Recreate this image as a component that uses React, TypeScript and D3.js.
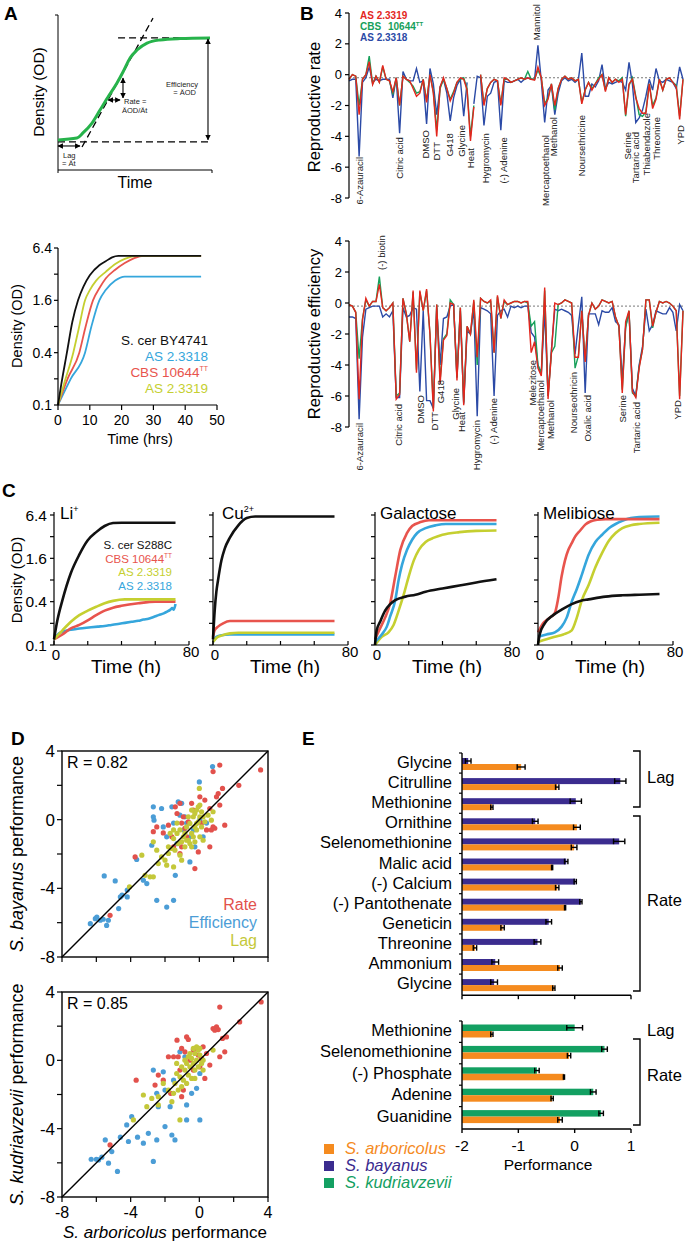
import React from "react";
import * as d3 from "d3";

const FONT = '"Liberation Sans", Arial, Helvetica, sans-serif';

// ================= Panel A (schematic) =================
const schemTime = [0, 12.3, 16.2, 22.1, 27.3, 32.5, 38.3, 42.2, 46.8, 51.3, 57.8, 66.2, 79.2, 98.7];
const schemOD = [19.4, 20.6, 23.9, 30.3, 38.7, 47.1, 56.1, 63.2, 72.3, 77.4, 81.9, 83.9, 84.8, 85.2];
const schemBaseLine: [number, number][] = [[0, 18.1], [98.7, 18.1]];
const schemTopLine: [number, number][] = [[39, 85.2], [98.7, 85.2]];
const schemTangent: [number, number][] = [[15.6, 14.8], [61.7, 98]];
const schemLagArrow: [number, number][] = [[0, 15.5], [14.3, 15.5]];
const schemRateV: [number, number][] = [[42.2, 46.5], [42.2, 59.4]];
const schemRateH: [number, number][] = [[32.5, 45.2], [40.3, 45.2]];
const schemEffArrow: [number, number][] = [[97.4, 19.5], [97.4, 84.5]];

// ================= Panel A (growth curves) =================
const aTimeTicks = [0, 10, 20, 30, 40, 50];
const odTicks = [0.1, 0.2, 0.4, 0.8, 1.6, 3.2, 6.4];
const odLabels = [0.1, 0.4, 1.6, 6.4];
const aBY4741: [number, number][] = [[0, 0.1], [1, 0.17], [2.8, 0.4], [4.5, 0.9], [6.3, 1.6], [8, 2.3], [10, 3.1], [13, 4.05], [15, 4.5], [17, 5.0], [19, 5.2], [45, 5.2]];
const aAS2_3319: [number, number][] = [[0, 0.1], [2, 0.18], [4.8, 0.4], [6.5, 0.75], [8.5, 1.6], [10, 2.1], [12, 2.7], [15, 3.4], [18, 4.2], [21, 4.8], [25, 5.2], [45, 5.2]];
const aCBS10644: [number, number][] = [[0, 0.1], [3, 0.2], [6.7, 0.4], [8.5, 0.75], [11, 1.6], [13, 2.2], [15, 2.85], [18, 3.6], [21, 4.3], [24, 4.9], [27, 5.2], [45, 5.2]];
const aAS2_3318: [number, number][] = [[0, 0.1], [4, 0.2], [8.5, 0.4], [10.5, 0.8], [13, 1.6], [15, 2.1], [18, 2.7], [21, 3.0], [45, 3.0]];

// ================= Panel B =================
const rateRed = [
  -0.3, 0.0, -0.1, -2.6, -0.3, 0.0, 0.85, -0.65, -0.1, -0.5,
  0.6, -0.3, -0.4, -1.1, -0.2, -2.0, -0.1, -0.3, -0.4, -0.9,
  -1.4, -1.2, -0.3, -1.8, 0.0, -1.2, -4.0, -0.8, -0.2, -0.9,
  -1.7, -1.2, -0.5, -0.2, -0.3, -1.0, -4.3, -2.1, null, 0.0,
  -2.0, -0.9, -0.5, -0.3, -0.4, -2.0, -0.2, -0.3, -0.5, -0.4,
  -0.3, -0.2, -0.3, -0.2, -0.3, -0.35, 0.5, -0.2, -2.0, -1.6,
  -0.6, -2.0, -0.9, -0.3, -0.1, -0.3, -0.2, -0.4, -0.3, -1.9,
  -1.0, -0.5, -1.0, -0.6, -0.3, 0.0, -1.1, -0.2, -0.5, -0.3,
  -0.5, -0.3, -2.6, -0.6, -0.3, -1.5, -2.2, -2.5, -2.5, -0.6,
  -2.2, -1.6, -0.3, -1.0, -0.3, -0.2, -0.5, -0.8, -2.9, -0.3,
];
const rateGreen = [
  -0.3, 0.0, -0.1, -2.0, -0.3, 0.0, 1.2, -0.6, -0.1, -0.5,
  0.5, -0.3, -0.4, -1.3, -0.2, -2.0, -0.1, -0.3, -0.5, -0.75,
  -1.2, -1.1, -0.3, -1.7, 0.0, -1.1, -3.6, -0.9, -0.3, -0.9,
  -1.6, -1.1, -0.5, -0.3, -0.2, -0.9, -4.0, -2.0, null, 0.0,
  -1.9, -0.9, -0.5, -0.3, -0.4, -1.9, -0.3, -0.3, -0.5, -0.4,
  -0.3, -0.2, -0.3, 0.2, -0.3, -0.3, 0.3, -0.2, -1.9, -1.5,
  -0.6, -2.3, -0.9, -0.3, -0.1, -0.3, -0.2, -0.4, -0.3, -1.8,
  -1.0, -0.5, -0.9, -0.6, -0.2, 0.0, -1.0, -0.2, -0.5, -0.3,
  -0.4, -0.2, -2.7, -0.7, -0.2, -1.4, -2.6, -2.7, -2.4, -0.6,
  -2.0, -1.5, -0.3, -1.0, -0.3, -0.2, -0.5, -0.7, -2.7, -0.3,
];
const rateBlue = [
  -0.4, -0.3, -0.3, -5.3, -0.5, -0.2, 0.5, -0.5, -0.3, -0.4,
  -0.3, -0.3, -0.3, -1.5, -0.2, -3.8, 0.2, -0.3, -0.4, -0.4,
  0.4, -0.5, -0.4, -3.2, 0.4, -0.6, -2.6, -0.8, -0.3, -1.2,
  -3.0, -1.5, -0.7, -0.3, -2.7, -0.5, null, -1.9, -0.1, -0.2,
  -3.3, -1.4, -1.2, -0.5, -0.4, -3.6, -0.4, -0.5, -0.5, -0.4,
  -0.3, -0.5, -0.3, -0.2, -0.3, -0.3, 1.9, -0.4, -3.1, -1.0,
  -0.7, -2.6, -1.2, -0.4, -0.2, -0.4, -0.3, -0.5, -0.3, 1.4,
  -1.4, -1.4, -0.6, -0.8, -0.4, 0.65, -0.9, -0.5, -0.6, -0.5,
  -0.4, -0.5, -1.0, 0.8, -0.6, -3.1, -2.8, -2.3, -1.4, -0.3,
  -1.0, 0.4, -0.4, -0.5, -0.3, -0.4, -0.5, -0.9, 0.5, -0.3,
];
const effRed = [
  -0.1, -0.2, -0.6, -6.2, -1.1, 0.3, -0.2, 0.1, 0.1, 1.2,
  -0.3, -0.5, -0.3, 0.0, -6.2, -5.9, 0.3, -0.7, -2.5, 0.8,
  -4.5, 0.8, -0.5, 0.9, -2.0, -7.0, -0.1, -5.2, -2.4, -2.1,
  0.0, -0.1, -5.0, -0.3, -6.6, -1.5, -2.0, 0.2, -3.5, 0.3,
  0.1, 0.0, 0.2, -3.2, 0.5, -1.0, 0.2, -0.1, 0.0, 0.1,
  0.1, 0.0, 0.1, 0.1, -3.2, -2.5, -4.2, -4.7, 1.0, -6.2,
  -3.2, 0.0, -0.1, 0.0, 0.2, 0.1, 0.0, -3.5, -3.5, -0.5,
  -3.8, -0.8, 0.0, -0.4, -0.2, 0.2, 0.1, 0.0, 0.1, -0.9,
  -1.5, -5.8, -1.2, -0.5, -5.7, -6.1, -4.2, -3.0, 0.2, 0.2,
  -1.5, -0.6, 0.1, 0.0, 0.1, 0.0, -0.2, -0.5, -6.2, -0.5,
];
const effGreen = [
  -0.1, -0.2, -0.6, -3.6, -1.0, 0.2, -0.2, 0.1, 0.1, 1.7,
  -0.3, -0.5, -0.3, 0.0, -6.0, -5.8, 0.3, -0.7, -2.5, 0.7,
  -4.3, 0.7, -0.5, 0.8, -2.0, -6.8, -0.1, -5.0, -2.3, -2.0,
  0.2, -0.1, -4.8, -0.3, -6.4, -1.5, -2.0, 0.1, -4.0, 0.3,
  0.1, 0.0, 0.1, -3.2, 0.4, -1.0, 0.1, -0.1, 0.0, 0.1,
  0.1, 0.0, 0.1, 0.0, -1.5, -1.2, -4.0, -4.5, 0.8, -6.0,
  -3.2, -2.8, -0.1, 0.0, 0.2, 0.1, 0.0, -4.2, -3.4, -0.5,
  -3.7, -0.8, 0.0, -0.4, -0.2, 0.2, 0.1, 0.0, 0.1, -0.9,
  -1.5, -5.6, -1.6, -0.5, -5.8, -6.0, -4.1, -3.0, 0.2, 0.2,
  -1.6, -0.6, 0.1, 0.0, 0.1, 0.0, -0.2, -0.5, -6.0, -0.5,
];
const effBlue = [
  -0.9, -0.9, -1.0, -7.5, -2.2, -0.4, -0.3, -0.2, -0.2, -0.2,
  -0.9, -0.7, -0.9, -0.5, -6.1, -6.1, -0.3, -0.9, -0.8, -0.3,
  -0.4, -5.7, -0.5, -6.3, -6.3, -6.8, -0.3, -4.0, -1.0, -0.9,
  -0.2, -0.1, -4.8, -0.5, -6.5, -1.8, -2.0, -0.4, -7.3, -0.3,
  -0.4, -0.5, -0.7, -6.0, -0.8, -0.5, -0.4, -0.9, -0.2, -0.3,
  -0.2, -0.3, -0.2, -0.2, -1.9, -2.2, -4.0, -4.6, -0.5, -6.0,
  -3.0, -0.4, -0.5, -0.4, -0.5, -0.6, -0.8, -3.3, -1.4, 0.4,
  -5.8, -0.7, -0.7, -0.7, -1.4, -0.5, -0.6, -0.6, -0.3, -1.2,
  -1.4, -5.0, -1.5, -0.6, -5.5, -6.0, -4.0, -2.8, -0.4, -1.8,
  -1.4, -0.5, -0.6, -0.7, -0.7, -0.3, -0.6, -1.8, -0.1, -0.5,
];
const bTicks = [-8, -6, -4, -2, 0, 2, 4];
const bBaseline = -0.2;
const rateLabels = ["6-Azauracil", "Citric acid", "DMSO", "DTT", "G418", "Glycine", "Heat", "Hygromycin", "(-) Adenine", "Mercaptoethanol", "Methanol", "Noursethricine", "Serine", "Tartaric acid", "Thiabendazole", "Threonine", "YPD"];
const rateLabelIdx = [3.3, 15, 22.6, 26, 29.8, 33.5, 36, 40.4, 45.8, 58.2, 60.7, 69.1, 82.5, 85.1, 88.2, 91.1, 98.3];
const rateLabelTop = [-5.34, -4.05, -3.59, -4.37, -3.79, -3.27, -4.76, -3.79, -4.05, -3.92, -2.75, -2.62, -3.72, -3.72, -2.49, -2.75, -3.27];
const rateUpLabels = ["Mannitol"];
const rateUpIdx = [55.7];
const rateUpBottom = [2.24];
const effLabels = ["6-Azauracil", "Citric acid", "DMSO", "DTT", "G418", "Glycine", "Heat", "Hygromycin", "(-) Adenine", "Melezitose", "Mercaptoethanol", "Methanol", "Nourseothricin", "Oxalic acid", "Serine", "Tartaric acid", "YPD"];
const effLabelIdx = [3.3, 14.7, 21.1, 25.5, 27.2, 31.5, 33.5, 37.9, 42.9, 54.3, 56.9, 59.9, 66.6, 70.6, 81, 85.4, 97.3];
const effLabelTop = [-7.74, -6.52, -5.94, -7.03, -4.97, -5.48, -7.03, -7.55, -6.13, -3.68, -4.97, -6.26, -4.45, -5.94, -5.94, -6.39, -6.26];
const effUpLabels = ["(-) biotin"];
const effUpIdx = [9.7];
const effUpBottom = [2.13];

// ================= Panel C =================
const cTimeTicks = [0, 20, 40, 60, 80];
const cTimeLabels = [0, 80];
const liBlack: [number, number][] = [[0, 0.12], [2, 0.22], [5, 0.42], [10, 1.0], [15, 1.8], [20, 2.85], [25, 3.7], [30, 4.5], [35, 4.95], [40, 5.0], [72, 5.0]];
const liRed: [number, number][] = [[0, 0.12], [5, 0.14], [10, 0.17], [15, 0.19], [20, 0.22], [25, 0.26], [30, 0.3], [35, 0.33], [40, 0.35], [50, 0.38], [60, 0.4], [72, 0.4]];
const liYellow: [number, number][] = [[0, 0.12], [5, 0.16], [10, 0.21], [15, 0.26], [20, 0.3], [25, 0.34], [30, 0.38], [35, 0.41], [42, 0.43], [72, 0.43]];
const liBlue: [number, number][] = [[0, 0.12], [3, 0.145], [6, 0.155], [10, 0.163], [14, 0.168], [18, 0.172], [22, 0.176], [26, 0.18], [30, 0.184], [34, 0.19], [38, 0.196], [42, 0.203], [46, 0.21], [50, 0.217], [53, 0.226], [56, 0.232], [59, 0.245], [62, 0.26], [65, 0.275], [67, 0.29], [69, 0.31], [70, 0.325], [71, 0.31], [72, 0.37]];
const cuBlack: [number, number][] = [[0, 0.12], [1, 0.3], [2, 0.55], [3, 0.8], [5, 1.5], [7, 2.2], [10, 3.1], [15, 4.6], [20, 5.8], [25, 6.1], [72, 6.1]];
const cuRed: [number, number][] = [[0, 0.13], [1, 0.16], [3, 0.18], [6, 0.2], [10, 0.215], [72, 0.215]];
const cuYellow: [number, number][] = [[0, 0.11], [2, 0.125], [5, 0.135], [10, 0.145], [15, 0.148], [72, 0.148]];
const cuBlue: [number, number][] = [[0, 0.11], [2, 0.13], [5, 0.137], [10, 0.14], [72, 0.14]];
const galBlack: [number, number][] = [[0, 0.1], [1, 0.16], [3, 0.21], [6, 0.3], [9, 0.37], [12, 0.42], [18, 0.47], [24, 0.5], [30, 0.55], [40, 0.61], [50, 0.67], [60, 0.74], [72, 0.82]];
const galRed: [number, number][] = [[0, 0.12], [3, 0.17], [6, 0.24], [9, 0.38], [12, 0.9], [15, 2.1], [19, 3.6], [22, 4.5], [27, 5.1], [32, 5.4], [72, 5.4]];
const galBlue: [number, number][] = [[0, 0.11], [4, 0.14], [7, 0.18], [9, 0.25], [12, 0.42], [14, 0.8], [16, 1.3], [19, 2.1], [22, 2.9], [25, 3.6], [30, 4.2], [36, 4.6], [42, 4.8], [72, 4.8]];
const galYellow: [number, number][] = [[0, 0.1], [4, 0.13], [8, 0.15], [11, 0.19], [14, 0.3], [17, 0.5], [20, 0.9], [23, 1.5], [26, 2.1], [30, 2.7], [35, 3.1], [40, 3.4], [50, 3.7], [60, 3.85], [72, 3.9]];
const melBlack: [number, number][] = [[0, 0.1], [1, 0.14], [4, 0.2], [9, 0.26], [14, 0.31], [20, 0.37], [25, 0.41], [30, 0.43], [40, 0.47], [50, 0.49], [60, 0.5], [72, 0.51]];
const melRed: [number, number][] = [[0, 0.15], [3, 0.2], [7, 0.24], [10, 0.28], [12, 0.45], [14, 0.9], [16, 1.5], [18, 2.1], [20, 2.6], [22, 3.2], [25, 3.9], [28, 4.7], [31, 5.2], [35, 5.5], [40, 5.6], [72, 5.6]];
const melBlue: [number, number][] = [[0, 0.13], [5, 0.14], [10, 0.15], [14, 0.18], [17, 0.24], [20, 0.4], [23, 0.6], [26, 0.95], [30, 1.8], [34, 2.7], [38, 3.4], [42, 4.2], [46, 4.8], [50, 5.3], [55, 5.8], [60, 6.0], [72, 6.1]];
const melYellow: [number, number][] = [[0, 0.11], [5, 0.12], [10, 0.13], [15, 0.14], [20, 0.16], [23, 0.24], [26, 0.42], [30, 0.68], [34, 1.2], [38, 1.9], [42, 2.8], [46, 3.6], [50, 4.2], [55, 4.6], [60, 4.8], [72, 5.0]];

// ================= Panel D =================
const dTicks = [-8, -6, -4, -2, 0, 2, 4];
const dLabels = [-8, -4, 0, 4];
const dTopEff: [number, number][] = [[-6.35, -6.06], [-6.06, -5.77], [-5.97, -5.67], [-5.77, -5.86], [-5.6, -5.8], [-5.4, -6.16], [-5.3, -5.86], [-5.54, -3.28], [-4.9, -3.57], [-4.7, -5.18], [-4.6, -4.5], [-4.5, -4.4], [-4.2, -4.1], [-4.2, -4.5], [-3.65, -2.32], [-3.26, -3.53], [-3.06, -3.72], [-2.77, -1.49], [-2.48, -4.7], [-1.9, -5.09], [-1.5, -4.7], [-1.4, -3.24], [-2.68, 0.75], [-2.68, 0.17], [-2.64, -0.03], [-2.2, 0.65], [-2.1, -0.42], [-1.9, -1.0], [-1.6, 0.75], [-1.23, 1.04], [-1.03, 0.95], [-0.84, 0.17], [-0.55, -1.0], [-0.35, -0.6], [-0.26, -1.58], [0, 2.2], [-0.55, -2.46], [0.77, 3.09], [0.03, 0.0], [0.22, -1.0], [-1.3, -1.39], [-1.5, -0.2], [-0.9, -0.6], [-0.74, -0.2], [-1.13, 0.26], [0.42, -0.2]];
const dTopRate: [number, number][] = [[-5.2, -5.57], [-3.74, -2.17], [-2.68, -0.7], [-2.48, -0.42], [-2.1, -0.77], [-1.8, -0.32], [-1.6, -1.0], [-1.4, 0.75], [-1.3, 0.36], [-1.13, 0.95], [-1.03, -0.2], [-0.93, 0.17], [-0.84, -0.5], [-0.74, -1.0], [-1.13, -1.97], [-1.5, -1.58], [-1.03, -1.58], [-0.45, 0.95], [-0.26, -2.85], [-0.06, -1.88], [0.13, -0.2], [0.32, 1.14], [0.42, -0.6], [0.61, -1.58], [0.7, -0.6], [0.8, -0.42], [0.9, -0.5], [1.0, 1.33], [1.1, 1.52], [1.19, 0.85], [1.35, 1.82], [1.48, -0.32], [1.19, 3.18], [0.8, 2.8], [2.3, 2.0], [3.57, 2.9], [0.61, 0.65], [0.03, 1.33], [-0.35, 0.56], [-0.64, -0.12]];
const dTopLag: [number, number][] = [[-4.07, -3.92], [-3.35, -2.07], [-3.16, -3.24], [-2.87, -3.33], [-2.68, -3.33], [-2.48, -1.78], [-2.39, -2.56], [-2.2, -2.17], [-2.0, -2.36], [-1.8, -1.97], [-1.8, -1.58], [-1.6, -1.68], [-1.42, -1.78], [-1.23, -1.39], [-1.03, -2.36], [-0.84, -1.58], [-0.74, -1.2], [-0.55, -1.39], [-0.45, -0.8], [-0.35, -1.0], [-0.26, -0.42], [-0.16, -0.22], [-0.06, -0.12], [0.03, 0.17], [0.13, 0.46], [0.22, 0.17], [0.03, 0.85], [-0.16, 0.56], [0, 1.82], [0.7, -0.03], [0.8, 0.46], [-1.5, -0.6], [-1.3, -0.8], [-1.13, -0.6], [-0.93, -1.0], [-0.74, -0.42], [-0.55, -0.22], [-0.35, 0.17], [-0.16, -0.6], [-1.03, -1.29], [-0.84, -0.8], [-0.64, -1.2], [-0.45, -1.58], [-0.26, -1.29], [-1.5, -1.1], [-1.7, -0.8], [-1.3, -0.2], [-0.64, 0.17], [-0.45, 0.56], [-0.26, 0.36], [-0.06, 0.75], [0.13, -0.42], [0.32, -0.12], [0.51, 0.26], [-1.5, -2.75], [-1.9, -2.65], [-1.13, -2.07], [-2.68, -1.29], [0.03, -1.0], [0.22, -1.2]];
const dBotEff: [number, number][] = [[-6.3, -5.79], [-6.0, -5.79], [-5.87, -5.83], [-5.68, -5.67], [-5.48, -4.66], [-5.29, -6.02], [-5.1, -5.34], [-4.77, -6.5], [-4.6, -4.5], [-4.23, -3.78], [-4.13, -4.75], [-3.94, -3.3], [-3.6, -4.5], [-3.26, -4.85], [-2.97, -4.27], [-2.68, -5.92], [-2.48, -4.66], [-2.39, -2.71], [-2.0, -3.88], [-1.6, -4.37], [-1.42, -4.66], [-0.74, -3.49], [0.03, -3.49], [-2.68, -0.57], [-2.1, -0.67], [-2.0, -1.74], [-1.5, -1.16], [-0.74, -2.61], [-0.45, -1.93], [-0.16, -1.64], [0.03, -0.77], [-1.13, 0.5], [-0.84, 0.21], [-2.48, -1.93], [-1.7, -2.71]];
const dBotRate: [number, number][] = [[-5.2, -4.95], [-3.68, -1.16], [-2.39, -0.86], [-2.58, -1.45], [-2.1, -1.16], [-1.8, 0.21], [-1.67, -1.93], [-1.5, 0.21], [-1.3, 1.18], [-1.23, 0.21], [-1.03, -2.13], [-0.93, -1.74], [-0.74, 1.37], [-0.64, 1.22], [-0.84, 0.5], [-1.03, 0.7], [-0.35, 0.6], [-0.06, 0.31], [0.13, 0.11], [0.32, -1.06], [0.42, 0.4], [0.61, -0.28], [0.8, 1.86], [0.9, 1.76], [1.0, 1.96], [1.1, 1.8], [1.19, 3.12], [1.19, 0.21], [1.35, 1.28], [1.48, 0.5], [1.58, 1.37], [2.35, 2.25], [3.6, 3.42], [-0.55, 0.01], [0.03, -0.38], [-0.35, -0.57], [0.22, 0.79], [-1.13, -0.57]];
const dBotLag: [number, number][] = [[-3.84, -3.49], [-3.26, -2.03], [-3.06, -2.71], [-2.77, -2.23], [-2.39, -2.61], [-2.39, -2.13], [-2.1, -1.35], [-1.8, -1.74], [-1.6, -2.42], [-1.13, -3.49], [-1.42, -1.35], [-1.32, -0.77], [-1.32, -0.18], [-1.13, -0.96], [-0.93, -1.16], [-0.84, -0.57], [-0.74, -0.18], [-0.64, -0.86], [-0.55, -0.38], [-0.45, 0.11], [-0.35, -0.18], [-0.26, 0.4], [-0.16, 0.01], [-0.06, 0.6], [0.03, 0.31], [0.13, -0.18], [0.22, 0.01], [0.8, 0.6], [-1.03, -1.54], [-0.74, -1.35], [-0.45, -1.06], [-0.26, -0.57], [-0.06, -0.38], [-0.84, 0.01], [-0.55, 0.4], [-0.35, 0.7], [-0.16, 0.79], [0.03, 0.7], [-1.5, -1.93], [-1.23, -1.74], [-0.64, 0.21], [-0.26, -1.06], [-1.03, -0.38], [0.22, -0.57]];

// ================= Panel E =================
const eTicks = [-2, -1, 0, 1];
const eCatsTop = ["Glycine", "Citrulline", "Methionine", "Ornithine", "Selenomethionine", "Malic acid", "(-) Calcium", "(-) Pantothenate", "Geneticin", "Threonine", "Ammonium", "Glycine"];
const eBayTop = [-1.89, 0.81, 0.02, -0.7, 0.79, -0.15, 0.01, 0.11, -0.46, -0.66, -1.41, -1.43];
const eBayTopErr = [0.05, 0.1, 0.1, 0.05, 0.1, 0.03, 0.02, 0.02, 0.05, 0.06, 0.06, 0.06];
const eArbTop = [-0.95, -0.31, -1.47, 0.04, -0.01, -0.4, -0.31, -0.17, -1.28, -1.77, -0.26, -0.37];
const eArbTopErr = [0.07, 0.03, 0.02, 0.06, 0.05, 0.01, 0.03, 0.01, 0.03, 0.03, 0.04, 0.02];
const eCatsBot = ["Methionine", "Selenomethionine", "(-) Phosphate", "Adenine", "Guanidine"];
const eKudBot = [0.0, 0.53, -0.67, 0.33, 0.47];
const eKudBotErr = [0.14, 0.05, 0.04, 0.05, 0.04];
const eArbBot = [-1.47, -0.1, -0.19, -0.4, -0.26];
const eArbBotErr = [0.02, 0.03, 0.01, 0.02, 0.04];

// ================= colours =================
const C_BLACK = "#111";
const C_BLUE = "#35a6dc";
const C_RED = "#e8544d";
const C_YEL = "#c5cf30";
const B_RED = "#e3261d";
const B_GREEN = "#17a05a";
const B_BLUE = "#2b4aa6";
const D_RED = "#e2514c";
const D_BLUE = "#4b9dd6";
const D_YEL = "#c4c83a";
const E_ORANGE = "#f58b1f";
const E_PURPLE = "#3b2c8f";
const E_GREEN = "#13a062";

type P = [number, number];

function pathOf(pts: P[], x: (v: number) => number, y: (v: number) => number, curve: any = d3.curveMonotoneX) {
  return d3.line<P>().x((d) => x(d[0])).y((d) => y(d[1])).curve(curve)(pts) || "";
}

const Arrow = ({ pts, x, y }: { pts: P[]; x: any; y: any }) => (
  <line x1={x(pts[0][0])} y1={y(pts[0][1])} x2={x(pts[1][0])} y2={y(pts[1][1])} stroke="#000" strokeWidth={1.1} markerStart="url(#ah)" markerEnd="url(#ah)" />
);

function PanelASchematic() {
  const x = d3.scaleLinear().domain([0, 100]).range([58, 212]);
  const y = d3.scaleLinear().domain([0, 100]).range([170, 15]);
  const pts: P[] = schemTime.map((t, i) => [t, schemOD[i]]);
  const dash = (p: P[]) => (
    <line x1={x(p[0][0])} y1={y(p[0][1])} x2={x(p[1][0])} y2={y(p[1][1])} stroke="#000" strokeWidth={1.3} strokeDasharray="7,4" />
  );
  return (
    <g>
      <text x={4} y={20} fontSize={19} fontWeight="bold">A</text>
      <line x1={x(0)} y1={y(100)} x2={x(0)} y2={y(0)} stroke="#000" strokeWidth={1} />
      <line x1={x(0)} y1={y(0)} x2={x(100)} y2={y(0)} stroke="#000" strokeWidth={1} />
      <line x1={x(0) - 3} y1={y(100)} x2={x(0)} y2={y(100)} stroke="#000" />
      <line x1={x(0)} y1={y(0)} x2={x(0)} y2={y(0) + 3} stroke="#000" />
      <line x1={x(100)} y1={y(0)} x2={x(100)} y2={y(0) + 3} stroke="#000" />
      {dash(schemBaseLine)}
      {dash(schemTopLine)}
      {dash(schemTangent)}
      <path d={pathOf(pts, x, y)} fill="none" stroke="#27b34b" strokeWidth={3} />
      <Arrow pts={schemLagArrow} x={x} y={y} />
      <Arrow pts={schemRateV} x={x} y={y} />
      <Arrow pts={schemRateH} x={x} y={y} />
      <Arrow pts={schemEffArrow} x={x} y={y} />
      <g fontSize={7.5} fill="#222">
        <text x={63} y={158}>Lag</text>
        <text x={62} y={166}>= Ät</text>
        <text x={124} y={104}>Rate =</text>
        <text x={122} y={113}>ÄOD/Ät</text>
        <text x={198} y={87} textAnchor="end">Efficiency</text>
        <text x={196} y={95} textAnchor="end">= ÄOD</text>
      </g>
      <text x={135} y={188} fontSize={16} textAnchor="middle">Time</text>
      <text transform="translate(44,92) rotate(-90)" fontSize={15.5} textAnchor="middle">Density (OD)</text>
    </g>
  );
}

function PanelAGrowth() {
  const x = d3.scaleLinear().domain([0, 50]).range([58, 217]);
  const y = d3.scaleLog().base(2).domain([0.1, 6.4]).range([405, 248]);
  const curves: [P[], string][] = [[aAS2_3318, C_BLUE], [aCBS10644, C_RED], [aAS2_3319, C_YEL], [aBY4741, C_BLACK]];
  const legend: [string, string, boolean][] = [["S. cer BY4741", C_BLACK, false], ["AS 2.3318", C_BLUE, false], ["CBS 10644", C_RED, true], ["AS 2.3319", C_YEL, false]];
  return (
    <g>
      {curves.map(([c, col], i) => (
        <path key={i} d={pathOf(c, x, y)} fill="none" stroke={col} strokeWidth={1.8} />
      ))}
      <line x1={x(0)} y1={y(6.4)} x2={x(0)} y2={y(0.1)} stroke="#000" strokeWidth={1.2} />
      <line x1={x(0)} y1={y(0.1)} x2={x(50)} y2={y(0.1)} stroke="#000" strokeWidth={1.2} />
      {odTicks.map((t) => (
        <line key={t} x1={x(0) - 4} x2={x(0)} y1={y(t)} y2={y(t)} stroke="#000" strokeWidth={1.2} />
      ))}
      {odLabels.map((t) => (
        <text key={t} x={x(0) - 6} y={y(t) + 5} fontSize={14} textAnchor="end">{t}</text>
      ))}
      {aTimeTicks.map((t) => (
        <g key={t}>
          <line x1={x(t)} x2={x(t)} y1={y(0.1)} y2={y(0.1) + 5} stroke="#000" strokeWidth={1.2} />
          <text x={x(t)} y={425} fontSize={14} textAnchor="middle">{t}</text>
        </g>
      ))}
      <text x={140} y={444} fontSize={14.5} textAnchor="middle">Time (hrs)</text>
      <text transform="translate(22,326) rotate(-90)" fontSize={14.5} textAnchor="middle">Density (OD)</text>
      {legend.map(([s, col, sup], i) => (
        <text key={i} x={208} y={345 + i * 16} fontSize={13.5} fill={col} textAnchor="end">
          {s}
          {sup ? <tspan dy={-6} fontSize={7}>TT</tspan> : null}
        </text>
      ))}
    </g>
  );
}

function BChart({ red, green, blue, y0, y1, label, labels, idx, tops, upLabels, upIdx, upBottom, labelCenter }: any) {
  const x = d3.scaleLinear().domain([0, 99]).range([349, 683]);
  const y = d3.scaleLinear().domain([-8, 4]).range([y1, y0]);
  const line = d3.line<number | null>().defined((d) => d !== null).x((_, i) => x(i)).y((d) => y(d as number));
  return (
    <g>
      <line x1={349} x2={683} y1={y(bBaseline)} y2={y(bBaseline)} stroke="#777" strokeWidth={1} strokeDasharray="2,2" />
      <path d={line(blue) || ""} fill="none" stroke={B_BLUE} strokeWidth={1.4} />
      <path d={line(green) || ""} fill="none" stroke={B_GREEN} strokeWidth={1.4} />
      <path d={line(red) || ""} fill="none" stroke={B_RED} strokeWidth={1.4} />
      <line x1={349} x2={349} y1={y(4)} y2={y(-8)} stroke="#000" strokeWidth={1.2} />
      {bTicks.map((t) => (
        <g key={t}>
          <line x1={345} x2={349} y1={y(t)} y2={y(t)} stroke="#000" strokeWidth={1.2} />
          <text x={342} y={y(t) + 4.5} fontSize={13} textAnchor="end">{t}</text>
        </g>
      ))}
      <text transform={`translate(320,${labelCenter}) rotate(-90)`} fontSize={16.5} textAnchor="middle">{label}</text>
      {labels.map((s: string, i: number) => (
        <text key={i} transform={`translate(${x(idx[i])},${y(tops[i])}) rotate(-90)`} fontSize={9.5} textAnchor="end" dy="0.35em" fill="#222">{s}</text>
      ))}
      {upLabels.map((s: string, i: number) => (
        <text key={"u" + i} transform={`translate(${x(upIdx[i])},${y(upBottom[i])}) rotate(-90)`} fontSize={9.5} textAnchor="start" dy="0.35em" fill="#222">{s}</text>
      ))}
    </g>
  );
}

function PanelB() {
  return (
    <g>
      <text x={300} y={20} fontSize={19} fontWeight="bold">B</text>
      <BChart red={rateRed} green={rateGreen} blue={rateBlue} y0={13} y1={198} label="Reproductive rate" labelCenter={107}
        labels={rateLabels} idx={rateLabelIdx} tops={rateLabelTop} upLabels={rateUpLabels} upIdx={rateUpIdx} upBottom={rateUpBottom} />
      <BChart red={effRed} green={effGreen} blue={effBlue} y0={241} y1={427} label="Reproductive efficiency" labelCenter={334}
        labels={effLabels} idx={effLabelIdx} tops={effLabelTop} upLabels={effUpLabels} upIdx={effUpIdx} upBottom={effUpBottom} />
      <g fontSize={10} fontWeight="bold">
        <text x={360} y={19} fill={B_RED}>AS 2.3319</text>
        <text x={360} y={30} fill={B_GREEN}>CBS<tspan x={388}>10644</tspan><tspan dy={-4} fontSize={6}>TT</tspan></text>
        <text x={360} y={41} fill={B_BLUE}>AS 2.3318</text>
      </g>
    </g>
  );
}

function CPanel({ x0, title, curves, first }: { x0: number; title: React.ReactNode; curves: [P[], string][]; first: boolean }) {
  const x = d3.scaleLinear().domain([0, 80]).range([x0, x0 + 135]);
  const y = d3.scaleLog().base(2).domain([0.1, 6.4]).range([645, 515]);
  return (
    <g>
      {curves.map(([c, col], i) => (
        <path key={i} d={pathOf(c, x, y)} fill="none" stroke={col} strokeWidth={2.6} />
      ))}
      <line x1={x0} x2={x0} y1={512} y2={645} stroke="#000" strokeWidth={1.2} />
      <line x1={x0} x2={x0 + 135} y1={645} y2={645} stroke="#000" strokeWidth={1.2} />
      {odTicks.map((t) => (
        <line key={t} x1={x0 - 4} x2={x0} y1={y(t)} y2={y(t)} stroke="#000" strokeWidth={1.2} />
      ))}
      {cTimeTicks.map((t) => (
        <line key={t} x1={x(t)} x2={x(t)} y1={645} y2={641} stroke="#000" strokeWidth={1.2} />
      ))}
      {cTimeLabels.map((t) => (
        <text key={t} x={x(t) + 2} y={t === 0 ? 660 : 657} fontSize={15} textAnchor="middle">{t}</text>
      ))}
      {first
        ? odLabels.map((t) => (
            <text key={t} x={x0 - 7} y={y(t) + 5.5} fontSize={15.5} textAnchor="end">{t}</text>
          ))
        : null}
      <text x={x0 + 72} y={673} fontSize={19} textAnchor="middle">Time (h)</text>
      {title}
    </g>
  );
}

function PanelC() {
  const xs = [54, 213, 375, 538];
  return (
    <g>
      <text x={2} y={497} fontSize={19} fontWeight="bold">C</text>
      <text transform="translate(22,580) rotate(-90)" fontSize={15} textAnchor="middle">Density (OD)</text>
      <CPanel x0={xs[0]} first={true} curves={[[liBlue, C_BLUE], [liRed, C_RED], [liYellow, C_YEL], [liBlack, C_BLACK]]}
        title={<text x={xs[0] + 6} y={519} fontSize={17}>Li<tspan dy={-7} fontSize={9}>+</tspan></text>} />
      <CPanel x0={xs[1]} first={false} curves={[[cuBlue, C_BLUE], [cuYellow, C_YEL], [cuRed, C_RED], [cuBlack, C_BLACK]]}
        title={<text x={xs[1] + 9} y={519} fontSize={17}>Cu<tspan dy={-7} fontSize={9}>2+</tspan></text>} />
      <CPanel x0={xs[2]} first={false} curves={[[galYellow, C_YEL], [galBlue, C_BLUE], [galRed, C_RED], [galBlack, C_BLACK]]}
        title={<text x={xs[2] + 5} y={519} fontSize={17}>Galactose</text>} />
      <CPanel x0={xs[3]} first={false} curves={[[melYellow, C_YEL], [melBlue, C_BLUE], [melRed, C_RED], [melBlack, C_BLACK]]}
        title={<text x={xs[3] + 5} y={519} fontSize={17}>Melibiose</text>} />
      <g fontSize={11.5} textAnchor="end">
        <text x={172} y={549} fill={C_BLACK}>S. cer S288C</text>
        <text x={172} y={562.5} fill={C_RED}>CBS 10644<tspan dy={-5} fontSize={6.5}>TT</tspan></text>
        <text x={172} y={576} fill={C_YEL}>AS 2.3319</text>
        <text x={172} y={589.5} fill={C_BLUE}>AS 2.3318</text>
      </g>
    </g>
  );
}

function Scatter({ top, bottom, eff, rate, lag, showX, yItalic, rText, legend }: any) {
  const x = d3.scaleLinear().domain([-8, 4]).range([62, 268]);
  const y = d3.scaleLinear().domain([-8, 4]).range([bottom, top]);
  const mid = (top + bottom) / 2;
  return (
    <g>
      {eff.map((d: P, i: number) => <circle key={"e" + i} cx={x(d[0])} cy={y(d[1])} r={2.6} fill={D_BLUE} />)}
      {rate.map((d: P, i: number) => <circle key={"r" + i} cx={x(d[0])} cy={y(d[1])} r={2.6} fill={D_RED} />)}
      {lag.map((d: P, i: number) => <circle key={"l" + i} cx={x(d[0])} cy={y(d[1])} r={2.6} fill={D_YEL} />)}
      <line x1={x(-8)} y1={y(-8)} x2={x(4)} y2={y(4)} stroke="#000" strokeWidth={1.4} />
      <rect x={x(-8)} y={y(4)} width={x(4) - x(-8)} height={y(-8) - y(4)} fill="none" stroke="#000" strokeWidth={1.4} />
      {dTicks.map((t) => (
        <g key={t}>
          <line x1={x(-8) - 5} x2={x(-8)} y1={y(t)} y2={y(t)} stroke="#000" strokeWidth={1.2} />
          <line x1={x(t)} x2={x(t)} y1={y(-8)} y2={y(-8) + 5} stroke="#000" strokeWidth={1.2} />
        </g>
      ))}
      {dLabels.map((t) => (
        <text key={t} x={x(-8) - 7} y={y(t) + 6} fontSize={17} textAnchor="end">{t}</text>
      ))}
      {showX
        ? dLabels.map((t) => (
            <text key={"x" + t} x={x(t)} y={bottom + 21} fontSize={16} textAnchor="middle">{t}</text>
          ))
        : null}
      <text x={67} y={top + 17} fontSize={16}>{rText}</text>
      <text transform={`translate(23,${mid}) rotate(-90)`} fontSize={18} textAnchor="middle">
        <tspan fontStyle="italic">{yItalic}</tspan> performance
      </text>
      {legend ? (
        <g fontSize={16} textAnchor="end">
          <text x={257} y={910} fill={D_RED}>Rate</text>
          <text x={257} y={928} fill={D_BLUE}>Efficiency</text>
          <text x={257} y={946} fill={D_YEL}>Lag</text>
        </g>
      ) : null}
    </g>
  );
}

function PanelD() {
  return (
    <g>
      <text x={11} y={745} fontSize={19} fontWeight="bold">D</text>
      <Scatter top={751} bottom={957} eff={dTopEff} rate={dTopRate} lag={dTopLag} showX={false} yItalic="S. bayanus" rText="R = 0.82" legend={true} />
      <Scatter top={992} bottom={1197} eff={dBotEff} rate={dBotRate} lag={dBotLag} showX={true} yItalic="S. kudriavzevii" rText="R = 0.85" legend={false} />
      <text x={165} y={1238} fontSize={17} textAnchor="middle">
        <tspan fontStyle="italic">S. arboricolus</tspan> performance
      </text>
    </g>
  );
}

function EBlock({ cats, v1, e1, c1, v2, e2, y0, step, off1, off2, h, showLabels }: any) {
  const x = d3.scaleLinear().domain([-2, 1]).range([462, 631]);
  const band = d3.scaleBand<number>().domain(cats.map((_: string, i: number) => i)).range([y0, y0 + step * cats.length]);
  const axisY = y0 + step * cats.length + 1;
  const err = (v: number, e: number, yc: number, k: string) => (
    <g key={k} stroke="#000" strokeWidth={1.4}>
      <line x1={x(v - e)} x2={x(v + e)} y1={yc} y2={yc} />
      <line x1={x(v - e)} x2={x(v - e)} y1={yc - 2.8} y2={yc + 2.8} />
      <line x1={x(v + e)} x2={x(v + e)} y1={yc - 2.8} y2={yc + 2.8} />
    </g>
  );
  return (
    <g>
      {cats.map((c: string, i: number) => {
        const b = band(i) as number;
        return (
          <g key={i}>
            <rect x={x(-2)} y={b + off1} width={x(v1[i]) - x(-2)} height={h} fill={c1} />
            <rect x={x(-2)} y={b + off2} width={x(v2[i]) - x(-2)} height={h} fill={E_ORANGE} />
            {err(v1[i], e1[i], b + off1 + h / 2, "a")}
            {err(v2[i], e2[i], b + off2 + h / 2, "b")}
            <text x={452} y={b + 15} fontSize={16.5} textAnchor="end">{c}</text>
            <line x1={459} x2={462} y1={b} y2={b} stroke="#000" strokeWidth={1.2} />
          </g>
        );
      })}
      <line x1={462} x2={462} y1={y0} y2={axisY} stroke="#000" strokeWidth={1.4} />
      <line x1={462} x2={631} y1={axisY} y2={axisY} stroke="#000" strokeWidth={1.4} />
      {eTicks.map((t) => (
        <g key={t}>
          <line x1={x(t)} x2={x(t)} y1={axisY} y2={axisY + 4} stroke="#000" strokeWidth={1.4} />
          {showLabels ? <text x={x(t)} y={axisY + 22} fontSize={15.5} textAnchor="middle">{t}</text> : null}
        </g>
      ))}
    </g>
  );
}

function Bracket({ x, y1, y2 }: { x: number; y1: number; y2: number }) {
  return <path d={`M${x - 7},${y1} H${x} V${y2} H${x - 7}`} fill="none" stroke="#000" strokeWidth={1.4} />;
}

function PanelE() {
  return (
    <g>
      <text x={302} y={745} fontSize={19} fontWeight="bold">E</text>
      <EBlock cats={eCatsTop} v1={eBayTop} e1={eBayTopErr} c1={E_PURPLE} v2={eArbTop} e2={eArbTopErr} y0={753} step={20.1} off1={5} off2={11} h={6} showLabels={false} />
      <EBlock cats={eCatsBot} v1={eKudBot} e1={eKudBotErr} c1={E_GREEN} v2={eArbBot} e2={eArbBotErr} y0={1021} step={21.4} off1={3.5} off2={10} h={6.5} showLabels={true} />
      <Bracket x={640} y1={751} y2={807} />
      <Bracket x={640} y1={816} y2={991} />
      <Bracket x={640} y1={1039} y2={1125} />
      <g fontSize={16.5}>
        <text x={647} y={783}>Lag</text>
        <text x={647} y={906}>Rate</text>
        <text x={647} y={1036}>Lag</text>
        <text x={647} y={1081}>Rate</text>
      </g>
      <text x={548} y={1170} fontSize={15.5} textAnchor="middle">Performance</text>
      <g fontSize={16.5} fontStyle="italic">
        <rect x={324} y={1144} width={10} height={10} fill={E_ORANGE} />
        <text x={345} y={1154} fill={E_ORANGE}>S. arboricolus</text>
        <rect x={324} y={1161} width={10} height={10} fill={E_PURPLE} />
        <text x={345} y={1171} fill={E_PURPLE}>S. bayanus</text>
        <rect x={324} y={1178} width={10} height={10} fill={E_GREEN} />
        <text x={345} y={1188} fill={E_GREEN}>S. kudriavzevii</text>
      </g>
    </g>
  );
}

export default function App() {
  return (
    <svg width={685} height={1243} style={{ position: "absolute", left: 0, top: 0, background: "#fff" }} fontFamily={FONT}>
      <defs>
        <marker id="ah" viewBox="0 0 10 10" refX={9} refY={5} markerWidth={5} markerHeight={5} orient="auto-start-reverse">
          <path d="M0,0 L10,5 L0,10 z" fill="#000" />
        </marker>
      </defs>
      <rect width={685} height={1243} fill="#fff" />
      <PanelASchematic />
      <PanelAGrowth />
      <PanelB />
      <PanelC />
      <PanelD />
      <PanelE />
    </svg>
  );
}
